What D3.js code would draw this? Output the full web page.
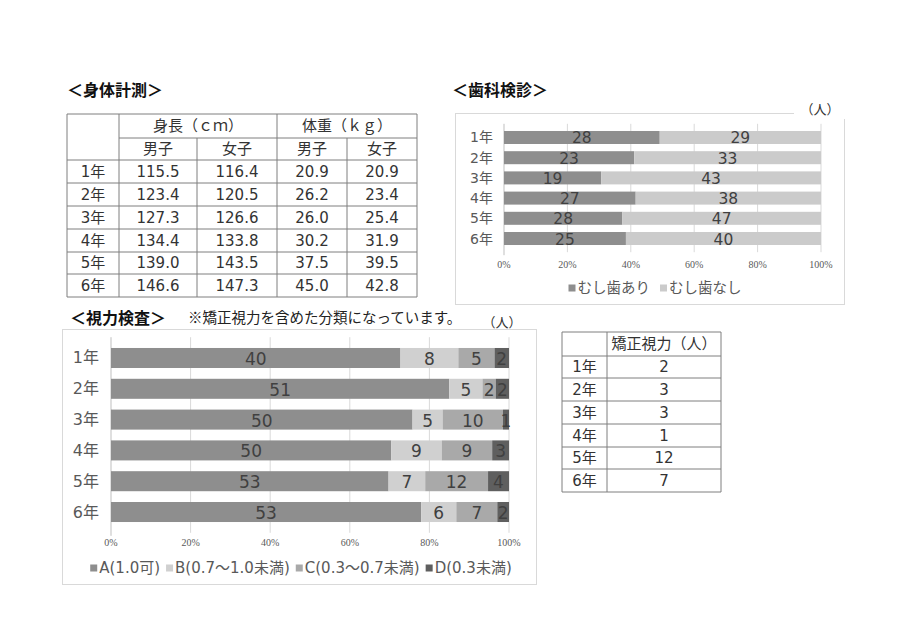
<!DOCTYPE html>
<html>

<head>
    <meta charset="utf-8">
    <title>学校保健</title>
    <style>
        body {
            margin: 0;
            padding: 0;
            background-color: #ffffff;
        }

        svg text {
            font-family: "DejaVu Sans", "Noto Sans CJK JP", sans-serif;
        }
    </style>
</head>

<body>
    <div id="container"></div>

    <script src="https://d3js.org/d3.v7.min.js"></script>

    <script>
        // ---- data ----
        var grades = ["1年", "2年", "3年", "4年", "5年", "6年"];

        var heightBoys = ["115.5", "123.4", "127.3", "134.4", "139.0", "146.6"];
        var heightGirls = ["116.4", "120.5", "126.6", "133.8", "143.5", "147.3"];
        var weightBoys = ["20.9", "26.2", "26.0", "30.2", "37.5", "45.0"];
        var weightGirls = ["20.9", "23.4", "25.4", "31.9", "39.5", "42.8"];

        var dentalKeys = ["むし歯あり", "むし歯なし"];
        var cavityYes = [28, 23, 19, 27, 28, 25];
        var cavityNo = [29, 33, 43, 38, 47, 40];

        var visionKeys = ["A(1.0可)", "B(0.7～1.0未満)", "C(0.3～0.7未満)", "D(0.3未満)"];
        var visionA = [40, 51, 50, 50, 53, 53];
        var visionB = [8, 5, 5, 9, 7, 6];
        var visionC = [5, 2, 10, 9, 12, 7];
        var visionD = [2, 2, 1, 3, 4, 2];

        var corrected = [2, 3, 3, 1, 12, 7];

        var pctTicks = [0, 0.2, 0.4, 0.6, 0.8, 1];

        var W = 900, H = 637;
        var textCol = "#404040", axisCol = "#595959", lineCol = "#7f7f7f";

        var svg = d3.select("div#container")
            .append("svg")
            .attr("width", W)
            .attr("height", H);

        svg.append("rect").attr("width", W).attr("height", H).style("fill", "#fff");

        function title(x, y, t) {
            svg.append("text")
                .attr("x", x).attr("y", y)
                .attr("font-size", 16).attr("font-weight", "bold")
                .style("font-family", "'Noto Sans CJK JP', sans-serif")
                .style("fill", "#111")
                .text(t);
        }

        // ---- generic table drawing ----
        function cell(x, y, t, size) {
            svg.append("text")
                .attr("x", x).attr("y", y)
                .attr("text-anchor", "middle")
                .attr("dominant-baseline", "central")
                .attr("font-size", size || 15)
                .style("fill", "#333")
                .text(t);
        }
        function hline(x1, x2, y) {
            svg.append("line").attr("x1", x1).attr("x2", x2).attr("y1", y).attr("y2", y)
                .style("stroke", lineCol).style("stroke-width", 1);
        }
        function vline(x, y1, y2) {
            svg.append("line").attr("x1", x).attr("x2", x).attr("y1", y1).attr("y2", y2)
                .style("stroke", lineCol).style("stroke-width", 1);
        }

        // ===== 身体計測 table =====
        title(67, 96, "＜身体計測＞");
        var tCols = [67, 119, 197, 277, 347, 417];
        var tRows = [114, 138, 160, 183, 206, 229, 252, 274, 297];
        // outer + grid
        hline(tCols[0], tCols[5], tRows[0]);
        hline(tCols[1], tCols[5], tRows[1]);
        for (var r = 2; r < tRows.length; r++) hline(tCols[0], tCols[5], tRows[r]);
        vline(tCols[0], tRows[0], tRows[8]);
        vline(tCols[1], tRows[0], tRows[8]);
        vline(tCols[2], tRows[1], tRows[8]);
        vline(tCols[3], tRows[0], tRows[8]);
        vline(tCols[4], tRows[1], tRows[8]);
        vline(tCols[5], tRows[0], tRows[8]);

        cell((tCols[1] + tCols[3]) / 2, (tRows[0] + tRows[1]) / 2, "身長（ｃｍ）");
        cell((tCols[3] + tCols[5]) / 2, (tRows[0] + tRows[1]) / 2, "体重（ｋｇ）");
        ["男子", "女子", "男子", "女子"].forEach(function (t, i) {
            cell((tCols[i + 1] + tCols[i + 2]) / 2, (tRows[1] + tRows[2]) / 2, t);
        });
        var bodyCols = [grades, heightBoys, heightGirls, weightBoys, weightGirls];
        bodyCols.forEach(function (col, c) {
            col.forEach(function (v, i) {
                cell((tCols[c] + tCols[c + 1]) / 2, (tRows[i + 2] + tRows[i + 3]) / 2, v);
            });
        });

        // ===== stacked 100% bar chart helper =====
        function stackedChart(opt) {
            var g = svg.append("g");
            var rows = grades.map(function (gr, i) {
                var o = { grade: gr };
                opt.keys.forEach(function (k, j) { o[k] = opt.series[j][i]; });
                return o;
            });
            var stack = d3.stack().keys(opt.keys).offset(d3.stackOffsetExpand);
            var layers = stack(rows);

            var x = d3.scaleLinear().domain([0, 1]).range(opt.xRange);
            var y = d3.scaleBand().domain(grades).range(opt.yRange).padding(opt.pad);

            // gridlines
            g.selectAll("line.grid").data(pctTicks.slice(1)).enter().append("line")
                .attr("x1", function (d) { return x(d); })
                .attr("x2", function (d) { return x(d); })
                .attr("y1", opt.yRange[0]).attr("y2", opt.yRange[1])
                .style("stroke", "#d9d9d9").style("stroke-width", 1);
            g.append("line")
                .attr("x1", x(0)).attr("x2", x(0))
                .attr("y1", opt.yRange[0]).attr("y2", opt.yRange[1] + 3)
                .style("stroke", "#bfbfbf").style("stroke-width", 1);

            // bars
            var lg = g.selectAll("g.layer").data(layers).enter().append("g")
                .style("fill", function (d, i) { return opt.colors[i]; });
            lg.selectAll("rect").data(function (d) { return d; }).enter().append("rect")
                .attr("x", function (d) { return x(d[0]); })
                .attr("width", function (d) { return x(d[1]) - x(d[0]); })
                .attr("y", function (d) { return y(d.data.grade); })
                .attr("height", y.bandwidth());

            // value labels
            layers.forEach(function (layer) {
                g.selectAll(null).data(layer).enter().append("text")
                    .attr("x", function (d) { return (x(d[0]) + x(d[1])) / 2; })
                    .attr("y", function (d) { return y(d.data.grade) + y.bandwidth() / 2 + 1; })
                    .attr("text-anchor", "middle")
                    .attr("dominant-baseline", "central")
                    .attr("font-size", opt.labelSize)
                    .style("fill", textCol)
                    .text(function (d) { return d.data[layer.key]; });
            });

            // category axis labels
            g.selectAll("text.cat").data(grades).enter().append("text")
                .attr("x", opt.catX)
                .attr("y", function (d) { return y(d) + y.bandwidth() / 2; })
                .attr("text-anchor", "end")
                .attr("dominant-baseline", "central")
                .attr("font-size", opt.catSize)
                .style("fill", axisCol)
                .text(function (d) { return d; });

            // percent ticks
            g.selectAll("text.tick").data(pctTicks).enter().append("text")
                .attr("x", function (d) { return x(d); })
                .attr("y", opt.tickY)
                .attr("text-anchor", "middle")
                .attr("dominant-baseline", "central")
                .attr("font-size", 10)
                .style("font-family", "'Liberation Serif', 'DejaVu Serif', serif")
                .style("fill", axisCol)
                .text(d3.format(".0%"));

            // legend, centered
            var leg = g.append("g");
            var cx = 0;
            opt.keys.forEach(function (k, i) {
                leg.append("rect")
                    .attr("x", cx).attr("y", -3.5)
                    .attr("width", 7).attr("height", 7)
                    .style("fill", opt.colors[i]);
                var t = leg.append("text")
                    .attr("x", cx + 9).attr("y", 0)
                    .attr("dominant-baseline", "central")
                    .attr("font-size", opt.legendSize)
                    .style("fill", axisCol)
                    .text(k);
                cx += 9 + t.node().getComputedTextLength() + opt.legendGap;
            });
            cx -= opt.legendGap;
            leg.attr("transform", "translate(" + (opt.legendCx - cx / 2) + "," + opt.legendY + ")");
        }

        // ===== 歯科検診 =====
        title(452, 96, "＜歯科検診＞");
        svg.append("rect")
            .attr("x", 455.5).attr("y", 113.5).attr("width", 389).attr("height", 191)
            .style("fill", "#fff").style("stroke", "#d9d9d9");
        svg.append("rect")
            .attr("x", 794).attr("y", 100).attr("width", 56).attr("height", 19)
            .style("fill", "#fff");
        svg.append("text")
            .attr("x", 820).attr("y", 109)
            .attr("text-anchor", "middle").attr("dominant-baseline", "central")
            .attr("font-size", 13).style("fill", "#333")
            .text("（人）");

        stackedChart({
            keys: dentalKeys,
            series: [cavityYes, cavityNo],
            colors: ["#8e8e8e", "#cbcbcb"],
            xRange: [504, 821],
            yRange: [123.8, 252.2],
            pad: 0.356,
            labelSize: 15.5,
            catX: 493,
            catSize: 14,
            tickY: 264,
            legendCx: 655,
            legendY: 288,
            legendSize: 14.5,
            legendGap: 10
        });

        // ===== 視力検査 =====
        title(70, 324, "＜視力検査＞");
        svg.append("text")
            .attr("x", 188).attr("y", 323)
            .attr("font-size", 14.5).style("fill", "#222")
            .style("font-family", "'Noto Sans CJK JP', sans-serif")
            .text("※矯正視力を含めた分類になっています。");
        svg.append("rect")
            .attr("x", 62.5).attr("y", 329.5).attr("width", 474).attr("height", 255)
            .style("fill", "#fff").style("stroke", "#d9d9d9");
        svg.append("text")
            .attr("x", 502).attr("y", 322)
            .attr("text-anchor", "middle").attr("dominant-baseline", "central")
            .attr("font-size", 13).style("fill", "#333")
            .text("（人）");

        stackedChart({
            keys: visionKeys,
            series: [visionA, visionB, visionC, visionD],
            colors: ["#8e8e8e", "#d0d0d0", "#a9a9a9", "#5f5f5f"],
            xRange: [111, 509],
            yRange: [337.2, 532.8],
            pad: 0.35,
            labelSize: 17,
            catX: 99,
            catSize: 16,
            tickY: 542,
            legendCx: 301,
            legendY: 568,
            legendSize: 15,
            legendGap: 6
        });

        // ===== 矯正視力 table =====
        var vCols = [562, 607, 721];
        var vRows = [332, 356, 378, 401, 424, 447, 469, 492];
        vRows.forEach(function (yy) { hline(vCols[0], vCols[2], yy); });
        vCols.forEach(function (xx) { vline(xx, vRows[0], vRows[7]); });
        cell((vCols[1] + vCols[2]) / 2, (vRows[0] + vRows[1]) / 2, "矯正視力（人）");
        grades.forEach(function (gr, i) {
            cell((vCols[0] + vCols[1]) / 2, (vRows[i + 1] + vRows[i + 2]) / 2, gr);
            cell((vCols[1] + vCols[2]) / 2, (vRows[i + 1] + vRows[i + 2]) / 2, corrected[i]);
        });
    </script>
</body>

</html>
